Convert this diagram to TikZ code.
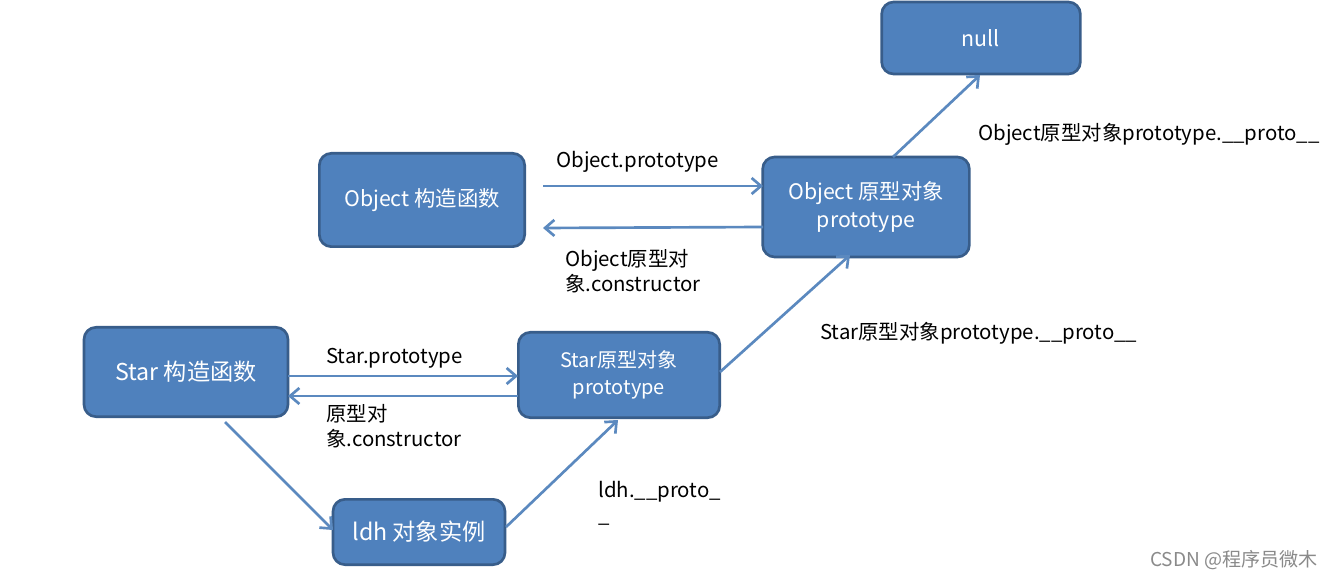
\documentclass[tikz,border=0pt]{standalone}
\usepackage{fontspec}
\setmainfont{Noto Sans CJK SC}
\usetikzlibrary{arrows.meta}
\definecolor{boxfill}{HTML}{4F81BD}
\definecolor{boxline}{HTML}{385D8A}
\definecolor{arr}{HTML}{5B89BF}
\definecolor{wm}{HTML}{8A8A8A}
\tikzset{
  box/.style={draw=boxline, line width=2pt, fill=boxfill, rounded corners=9pt, text=white, align=center, inner sep=0pt},
  conn/.style={draw=arr, line width=2pt, -{Straight Barb[length=7pt,width=12pt,line width=2pt]}},
  lab/.style={text=black, font=\fontsize{15.3pt}{19pt}\selectfont, align=left, inner sep=0pt},
}
\begin{document}
\begin{tikzpicture}[x=0.75pt,y=-0.75pt]
\useasboundingbox (0,0) rectangle (1337,580);
\fill[white] (0,0) rectangle (1337,580);
% boxes
\node[box, minimum width=149pt, minimum height=54pt, font=\fontsize{16pt}{19pt}\selectfont] (null) at (981,38) {null};
\node[box, minimum width=154pt, minimum height=70pt, font=\fontsize{16pt}{19pt}\selectfont] (ocf) at (422,200) {Object 构造函数};
\node[box, minimum width=155pt, minimum height=75pt, font=\fontsize{16pt}{21pt}\selectfont] (opr) at (866,207) {Object 原型对象\\prototype};
\node[box, minimum width=153pt, minimum height=67pt, font=\fontsize{17.4pt}{20pt}\selectfont] (scf) at (186,372) {Star 构造函数};
\node[box, minimum width=151pt, minimum height=64pt, font=\fontsize{15pt}{20pt}\selectfont] (spr) at (619,375) {Star原型对象\\prototype};
\node[box, minimum width=129pt, minimum height=49pt, font=\fontsize{17.4pt}{20pt}\selectfont] (ldh) at (419,532) {ldh 对象实例};
% connector endpoints
\coordinate (a1s) at (543,186); \coordinate (a1e) at (763,186);
\coordinate (a2s) at (763,227); \coordinate (a2e) at (543,228);
\coordinate (b1s) at (288,376); \coordinate (b1e) at (518,376);
\coordinate (b2s) at (518,396); \coordinate (b2e) at (288,396);
\coordinate (c1s) at (720,372); \coordinate (c1e) at (850,255);
\coordinate (d1s) at (893,157); \coordinate (d1e) at (980,75);
\coordinate (e1s) at (225,422); \coordinate (e1e) at (333,530);
\coordinate (f1s) at (506,527); \coordinate (f1e) at (618,420);
\draw[conn] (a1s) -- (a1e);
\draw[conn] (a2s) -- (a2e);
\draw[conn] (b1s) -- (b1e);
\draw[conn] (b2s) -- (b2e);
\draw[conn] (c1s) -- (c1e);
\draw[conn] (d1s) -- (d1e);
\draw[conn] (e1s) -- (e1e);
\draw[conn] (f1s) -- (f1e);
% labels
\node[lab, anchor=west] (l1) at (556,162) {Object.prototype};
\node[lab, anchor=north west] (l2) at (565,249) {Object原型对\\象.constructor};
\node[lab, anchor=west] (l3) at (326,358) {Star.prototype};
\node[lab, anchor=north west] (l4) at (326,404) {原型对\\象.constructor};
\node[lab, anchor=west] (l5) at (820,333) {Star原型对象prototype.\_\_proto\_\_};
\node[lab, anchor=west] (l6) at (978,134) {Object原型对象prototype.\_\_proto\_\_};
\node[lab, anchor=north west] (l7) at (598,481) {ldh.\_\_proto\_\\\_};
\node[anchor=west, text=wm, inner sep=0pt, font=\fontsize{14.3pt}{16pt}\selectfont] (wm) at (1150,560) {CSDN @程序员微木};
\end{tikzpicture}
\end{document}
